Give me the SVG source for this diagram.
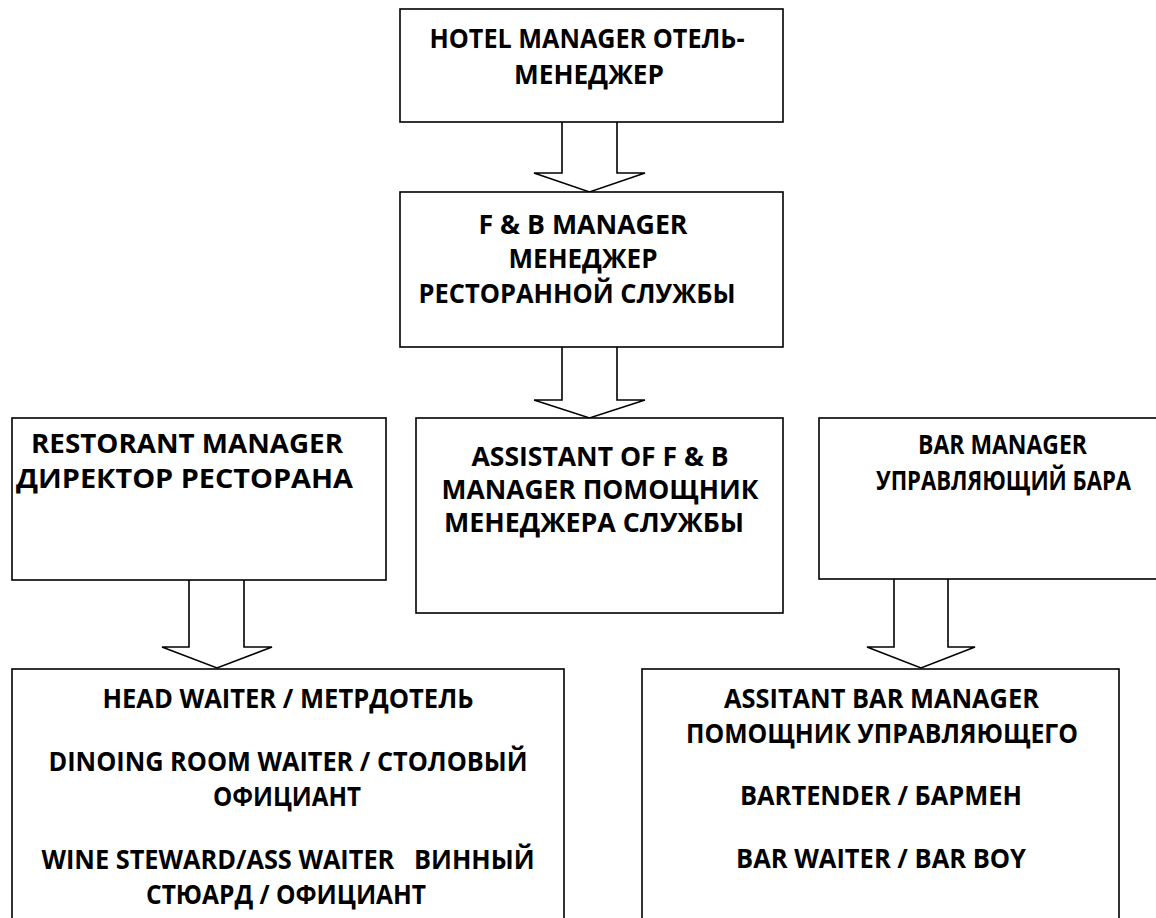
<svg xmlns="http://www.w3.org/2000/svg" width="1156" height="918" viewBox="0 0 1156 918">
<style>
.box{fill:#fff;stroke:#000;stroke-width:1.6}
.arr{fill:#fff;stroke:#000;stroke-width:1.6;stroke-linejoin:miter}
text{font-family:'Open Sans','Noto Sans','DejaVu Sans',sans-serif;font-weight:bold;font-size:26px;fill:#000;text-anchor:middle}
.pre{white-space:pre}
</style>
<rect width="1156" height="918" fill="#fff"/>
<g id="connectors">
<path class="arr" d="M562,122 V173 H534 L589.5,192 L645,173 H617 V122"/>
<path class="arr" d="M562,347 V400 H534 L589.5,418 L645,400 H617 V347"/>
<path class="arr" d="M189,580 V647 H162 L217,668 L272,647 H244 V580"/>
<path class="arr" d="M894,579 V647 H867 L921,668 L975,647 H948 V579"/>
</g>
<g id="hotel-manager">
<rect class="box" x="400" y="9" width="383" height="113"/>
<text x="587" y="48" textLength="315" lengthAdjust="spacingAndGlyphs">HOTEL MANAGER ОТЕЛЬ-</text>
<text x="589" y="84" textLength="150" lengthAdjust="spacingAndGlyphs">МЕНЕДЖЕР</text>
</g>
<g id="fb-manager">
<rect class="box" x="400" y="192" width="383" height="155"/>
<text x="583" y="234" textLength="209" lengthAdjust="spacingAndGlyphs">F &amp; B MANAGER</text>
<text x="583" y="268" textLength="149" lengthAdjust="spacingAndGlyphs">МЕНЕДЖЕР</text>
<text x="577" y="303" textLength="317" lengthAdjust="spacingAndGlyphs">РЕСТОРАННОЙ СЛУЖБЫ</text>
</g>
<g id="assistant-fb">
<rect class="box" x="416" y="418" width="367" height="195"/>
<text x="600" y="466" textLength="257" lengthAdjust="spacingAndGlyphs">ASSISTANT OF F &amp; B</text>
<text x="600" y="499" textLength="317" lengthAdjust="spacingAndGlyphs">MANAGER ПОМОЩНИК</text>
<text x="594" y="532" textLength="300" lengthAdjust="spacingAndGlyphs">МЕНЕДЖЕРА СЛУЖБЫ</text>
</g>
<g id="restorant-manager">
<rect class="box" x="12" y="418" width="374" height="162"/>
<text x="187" y="453" textLength="312" lengthAdjust="spacingAndGlyphs">RESTORANT MANAGER</text>
<text x="184.5" y="488" textLength="337" lengthAdjust="spacingAndGlyphs">ДИРЕКТОР РЕСТОРАНА</text>
</g>
<g id="bar-manager">
<rect class="box" x="819" y="418" width="345" height="161"/>
<text x="1002.5" y="454" textLength="169" lengthAdjust="spacingAndGlyphs">BAR MANAGER</text>
<text x="1003.5" y="490" textLength="255" lengthAdjust="spacingAndGlyphs">УПРАВЛЯЮЩИЙ БАРА</text>
</g>
<g id="waiters">
<rect class="box" x="12" y="669" width="552" height="270"/>
<text x="288" y="708" textLength="371" lengthAdjust="spacingAndGlyphs">HEAD WAITER / МЕТРДОТЕЛЬ</text>
<text x="288" y="771" textLength="479" lengthAdjust="spacingAndGlyphs">DINOING ROOM WAITER / СТОЛОВЫЙ</text>
<text x="287" y="806" textLength="148" lengthAdjust="spacingAndGlyphs">ОФИЦИАНТ</text>
<text class="pre" x="288" y="869" textLength="493" lengthAdjust="spacingAndGlyphs">WINE STEWARD/ASS WAITER   ВИННЫЙ</text>
<text x="286" y="904" textLength="280" lengthAdjust="spacingAndGlyphs">СТЮАРД / ОФИЦИАНТ</text>
</g>
<g id="bar-staff">
<rect class="box" x="642" y="669" width="477" height="270"/>
<text x="881.5" y="708" textLength="315" lengthAdjust="spacingAndGlyphs">ASSITANT BAR MANAGER</text>
<text x="882" y="743" textLength="392" lengthAdjust="spacingAndGlyphs">ПОМОЩНИК УПРАВЛЯЮЩЕГО</text>
<text x="881" y="805" textLength="282" lengthAdjust="spacingAndGlyphs">BARTENDER / БАРМЕН</text>
<text x="881" y="868" textLength="290" lengthAdjust="spacingAndGlyphs">BAR WAITER / BAR BOY</text>
</g>
</svg>
